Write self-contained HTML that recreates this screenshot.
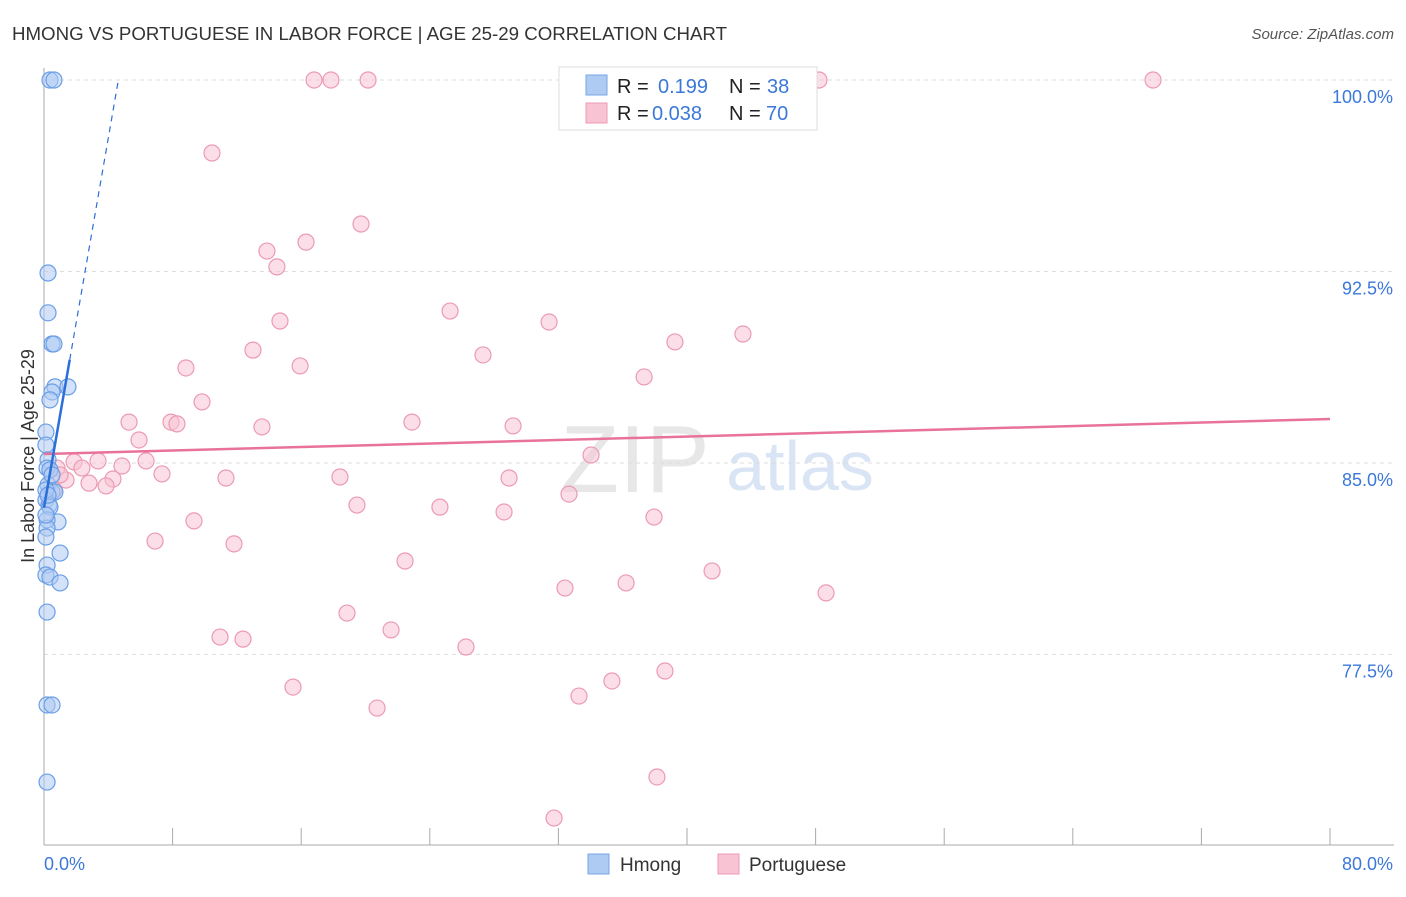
<!DOCTYPE html>
<html><head><meta charset="utf-8"><style>
body{margin:0;background:#fff;font-family:"Liberation Sans",sans-serif;}
svg text{font-family:"Liberation Sans",sans-serif;}
</style></head><body>
<svg id="chart" width="1406" height="892">
<text x="12" y="40" font-size="18" fill="#333" textLength="715" lengthAdjust="spacingAndGlyphs">HMONG VS PORTUGUESE IN LABOR FORCE | AGE 25-29 CORRELATION CHART</text>
<text x="1394" y="39" font-size="15" fill="#555" text-anchor="end" font-style="italic">Source: ZipAtlas.com</text>
<g><text x="635" y="492" font-size="96" fill="#ddd" text-anchor="middle" font-family="Liberation Serif" opacity="0.7">ZIP</text><text x="800" y="490" font-size="70" fill="#c9d9f0" text-anchor="middle" opacity="0.7">atlas</text></g>
<g id="grid"></g><g id="axes"></g><g id="marks"></g>
<g>
<rect x="559" y="67" width="258" height="63" fill="#fff" stroke="#ddd"/>
<rect x="586" y="75" width="21" height="20" fill="#aecbf3" stroke="#7aa6e6"/>
<rect x="586" y="103" width="21" height="20" fill="#f8c3d3" stroke="#ec9ab3"/>
<text x="617" y="93" font-size="20" fill="#222">R = </text><text x="658" y="93" font-size="20" fill="#3b78d8">0.199</text>
<text x="729" y="93" font-size="20" fill="#222">N = </text><text x="767" y="93" font-size="20" fill="#3b78d8">38</text>
<text x="617" y="120" font-size="20" fill="#222">R = </text><text x="652" y="120" font-size="20" fill="#3b78d8">0.038</text>
<text x="729" y="120" font-size="20" fill="#222">N = </text><text x="766" y="120" font-size="20" fill="#3b78d8">70</text>
</g>
<g>
<rect x="588" y="854" width="21" height="20" fill="#aecbf3" stroke="#7aa6e6"/><text x="620" y="871" font-size="19" fill="#333">Hmong</text>
<rect x="718" y="854" width="21" height="20" fill="#f8c3d3" stroke="#ec9ab3"/><text x="749" y="871" font-size="19" fill="#333">Portuguese</text>
</g>
<text transform="translate(34,456) rotate(-90)" font-size="18" fill="#333" text-anchor="middle">In Labor Force | Age 25-29</text>
</svg>
<script>
const yTicks=[100,92.5,85,77.5];
const yTickLabels=["100.0%","92.5%","85.0%","77.5%"];
const xTicks=[0,8,16,24,32,40,48,56,64,72,80];
const hmongX=[0.37,0.62,0.25,0.25,0.5,0.62,0.68,1.49,0.5,0.37,0.12,0.12,0.25,0.19,0.25,0.5,0.68,0.12,0.31,0.37,0.87,0.19,0.19,0.12,1.0,0.19,0.12,0.37,1.0,0.19,0.19,0.5,0.19,0.12,0.25,0.37,0.12,0.5];
const hmongY=[100,100,92.44,90.88,89.66,89.66,87.98,87.98,87.78,87.47,86.21,85.70,85.12,84.80,84.14,83.86,83.86,83.55,83.35,83.27,82.69,82.77,82.45,82.10,81.47,81.00,80.61,80.53,80.30,79.16,75.52,75.52,72.50,83.94,83.74,84.73,82.96,84.53];
const portX=[16.8,17.85,20.16,48.21,68.99,10.45,19.72,13.87,16.3,14.49,25.26,31.42,43.48,14.68,39.25,13.0,27.31,8.83,15.93,37.33,9.83,5.29,7.9,8.27,13.56,22.89,29.18,5.91,34.03,6.35,3.36,4.85,1.87,0.81,2.36,7.34,18.41,11.32,28.93,4.29,2.8,3.86,1.37,0.62,32.66,19.47,24.63,28.62,9.33,37.95,6.91,11.82,22.46,32.41,36.21,41.56,48.65,18.85,21.59,10.95,12.38,26.25,38.63,15.49,35.33,33.28,20.72,38.13,31.73,1.0];
const portY=[100,100,100,100,100,97.14,94.36,93.3,93.65,92.68,90.95,90.52,90.05,90.56,89.74,89.42,89.23,88.72,88.8,88.37,87.39,86.6,86.6,86.53,86.41,86.6,86.45,85.9,85.31,85.08,85.08,84.88,85.04,84.8,84.8,84.57,84.45,84.41,84.41,84.37,84.21,84.1,84.33,83.94,83.78,83.35,83.27,83.08,82.73,82.88,81.94,81.83,81.16,80.1,80.3,80.77,79.91,79.12,78.46,78.18,78.1,77.79,76.85,76.22,76.46,75.87,75.4,72.7,71.09,84.53];
const hmongTrend=[83.25,3.62];
const portTrend=[85.35,(86.72-85.35)/80];
const NS="http://www.w3.org/2000/svg";
const X=v=>44+v*16.075, Y=v=>80+(100-v)*25.53;
function mk(t,a,p){const e=document.createElementNS(NS,t);for(const k in a)e.setAttribute(k,a[k]);p.appendChild(e);return e;}
const grid=document.getElementById('grid'),axes=document.getElementById('axes'),marks=document.getElementById('marks');
yTicks.forEach((t,i)=>{
 const l=mk('line',{x1:44,x2:1394,y1:Y(t),y2:Y(t),stroke:'#ddd','stroke-dasharray':'4,4'},grid);
 
 
 const tx=mk('text',{x:1393,y:Y(t)+23,'font-size':18,fill:'#3b78d8','text-anchor':'end'},axes);tx.textContent=yTickLabels[i];
 
 
});
mk('line',{x1:44,x2:44,y1:68,y2:845,stroke:'#aaa'},axes);
mk('line',{x1:44,x2:1394,y1:845,y2:845,stroke:'#aaa'},axes);
xTicks.forEach(t=>{const l=mk('line',{x1:X(t),x2:X(t),y1:828,y2:845,stroke:'#aaa'},axes);
 
 });
let a=mk('text',{x:44,y:870,'font-size':18,fill:'#3b78d8'},axes);a.textContent='0.0%';


a=mk('text',{x:1393,y:870,'font-size':18,fill:'#3b78d8','text-anchor':'end'},axes);a.textContent='80.0%';


portX.forEach((x,i)=>{const c=mk('circle',{cx:X(x),cy:Y(portY[i]),r:8,fill:'#f8c3d3','fill-opacity':0.55,stroke:'#ec9ab3','stroke-width':1.2},marks);
 
 });
hmongX.forEach((x,i)=>{const c=mk('circle',{cx:X(x),cy:Y(hmongY[i]),r:8,fill:'#aecbf3','fill-opacity':0.55,stroke:'#6a9ee6','stroke-width':1.2},marks);
 
 });
let t=mk('line',{x1:X(0),y1:Y(portTrend[0]),x2:X(80),y2:Y(portTrend[0]+80*portTrend[1]),stroke:'#e8729a','stroke-width':2.5},marks);


t=mk('line',{x1:X(0),y1:Y(hmongTrend[0]),x2:X(1.6),y2:Y(hmongTrend[0]+1.6*hmongTrend[1]),stroke:'#2b6fd8','stroke-width':2.5},marks);


t=mk('line',{x1:X(1.6),y1:Y(hmongTrend[0]+1.6*hmongTrend[1]),x2:X(4.6),y2:Y(hmongTrend[0]+4.6*hmongTrend[1]),stroke:'#2b6fd8','stroke-width':1.2,'stroke-dasharray':'6,5'},marks);


</script>
</body></html>
